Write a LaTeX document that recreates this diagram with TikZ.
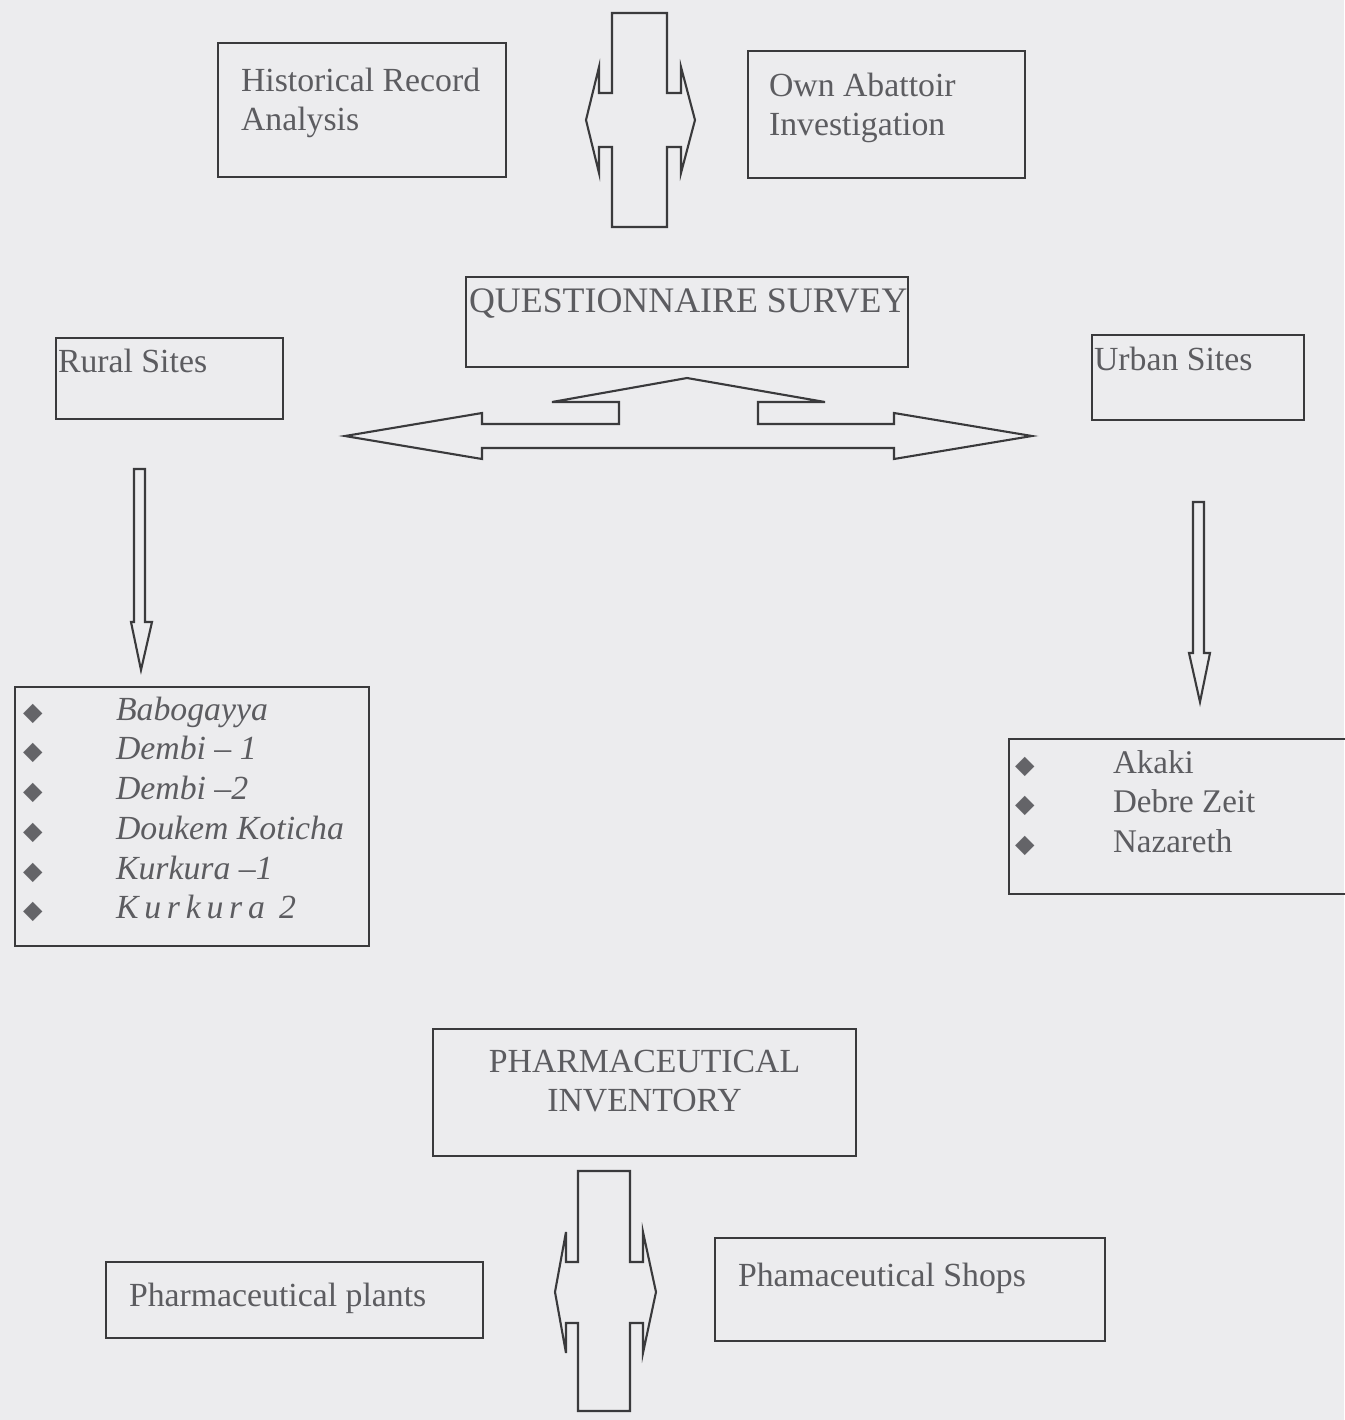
\documentclass[tikz,border=0pt]{standalone}
\usepackage{fontspec}
\setmainfont{Liberation Serif}
\newfontfamily\symfont{DejaVu Sans}

\definecolor{paper}{RGB}{236,236,238}
\definecolor{linecol}{RGB}{58,58,60}
\definecolor{inkcol}{RGB}{92,92,96}
\definecolor{diamcol}{RGB}{100,100,104}

% one pixel of the scan
\newlength\px
\setlength\px{0.01cm}

% width, height, first baseline, left indent, text
\newcommand\boxtext[5]{\parbox[c][#2\px][t]{#1\px}{\raggedright\leftskip=#4\px\relax
  \vspace*{\dimexpr#3\px-\ht\strutbox\relax}\strut#5}}
\newcommand\diam{{\symfont\fontsize{7.2}{7.2}\selectfont\color{diamcol}◆}}
\newcommand\site[2]{\makebox[#1\px][l]{\diam}#2}

\tikzset{
  box/.style={draw=linecol, line width=0.6pt, anchor=north west, inner sep=0pt, text=inkcol},
  blockarrow/.style={draw=linecol, line width=0.6pt, line join=miter},
}

\begin{document}
\begin{tikzpicture}[x=0.01cm, y=-0.01cm, font=\fontsize{9.6}{11.3}\selectfont]
    \fill[paper] (0,0) rectangle (1344,1420);
    \useasboundingbox (0,0) rectangle (1344,1420);

    \node[box] (hist)   at (217,42)  {\boxtext{288}{134}{48}{23}{Historical Record\\Analysis}};
    \node[box] (abat)   at (747,50)  {\boxtext{277}{127}{45}{21}{Own Abattoir\\Investigation}};
    \node[box, font=\fontsize{10.2}{11.3}\selectfont] (quest) at (465,276)
        {\boxtext{442}{90}{35}{3}{QUESTIONNAIRE SURVEY}};
    \node[box] (rural)  at (55,337)  {\boxtext{227}{81}{34}{2}{Rural Sites}};
    \node[box] (urban)  at (1091,334) {\boxtext{212}{85}{35}{2}{Urban Sites}};
    \node[box] (rlist)  at (14,686)  {\boxtext{354}{259}{33}{8}{%
        \site{93}{\textit{Babogayya}}\\
        \site{93}{\textit{Dembi – 1}}\\
        \site{93}{\textit{Dembi –2}}\\
        \site{93}{\textit{Doukem Koticha}}\\
        \site{93}{\textit{Kurkura –1}}\\
        \site{93}{\textit{\addfontfeatures{LetterSpace=17}Kurkura 2}}}};
    \node[box, font=\fontsize{9.4}{11.3}\selectfont] (ulist) at (1008,738)
        {\boxtext{342}{155}{34}{6}{%
        \site{98}{Akaki}\\
        \site{98}{Debre Zeit}\\
        \site{98}{Nazareth}}};
    \node[box] (pharm)  at (432,1028) {\boxtext{423}{127}{43}{0}{\centering PHARMACEUTICAL\\INVENTORY}};
    \node[box] (plants) at (105,1261) {\boxtext{377}{76}{44}{23}{Pharmaceutical plants}};
    \node[box] (shops)  at (714,1237) {\boxtext{390}{103}{48}{23}{Phamaceutical Shops}};

    % block arrows
    \draw[blockarrow] (612,13) -- (667,13) -- (667,93) -- (681,93) -- (681,67) -- (695,120)
        -- (681,173) -- (681,147) -- (667,147) -- (667,227) -- (612,227) -- (612,147)
        -- (599,147) -- (599,173) -- (586,120) -- (599,67) -- (599,93) -- (612,93) -- cycle;
    \draw[blockarrow] (345,436) -- (482,413) -- (482,424) -- (619,424) -- (619,402) -- (552,402)
        -- (687,378) -- (825,402) -- (758,402) -- (758,424) -- (894,424) -- (894,413)
        -- (1032,436) -- (894,459) -- (894,448) -- (482,448) -- (482,459) -- cycle;
    \draw[blockarrow] (134,469) -- (145,469) -- (145,622) -- (152,622) -- (141,670)
        -- (131,622) -- (134,622) -- cycle;
    \draw[blockarrow] (1193,502) -- (1204,502) -- (1204,653) -- (1210,653) -- (1200,702)
        -- (1189,653) -- (1193,653) -- cycle;
    \draw[blockarrow] (578,1171) -- (630,1171) -- (630,1262) -- (643,1262) -- (643,1232) -- (656,1292)
        -- (643,1353) -- (643,1323) -- (630,1323) -- (630,1411) -- (578,1411) -- (578,1323)
        -- (566,1323) -- (566,1353) -- (555,1292) -- (566,1232) -- (566,1262) -- (578,1262) -- cycle;
\end{tikzpicture}
\end{document}
